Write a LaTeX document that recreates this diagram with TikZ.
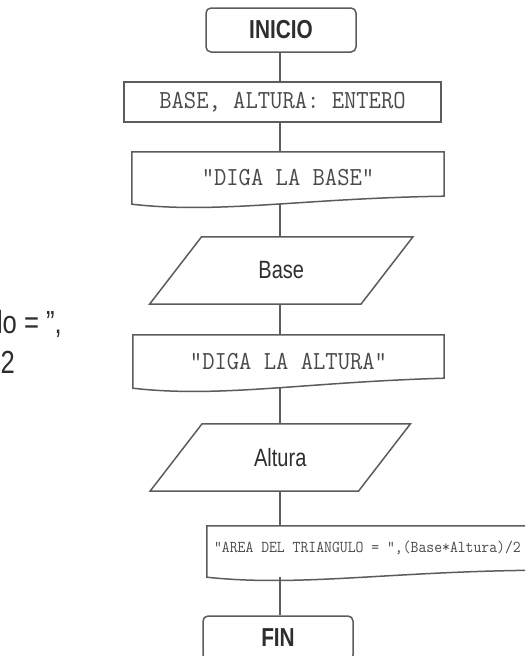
\documentclass[tikz,border=0pt]{standalone}
\usepackage{fontspec}
\setmainfont{Liberation Sans}
\usetikzlibrary{calc}

\definecolor{linegray}{HTML}{5C5C5C}
\definecolor{monogray}{HTML}{4A4A4A}
\definecolor{sansgray}{HTML}{2E2E2E}

% the scan is squeezed sideways, so is the text
\newcommand{\squeeze}[1]{\scalebox{0.8}[1]{#1}}
\newcommand{\squeezett}[1]{\scalebox{0.92}[1]{#1}}

% document shape: wavy bottom, right end raised by #2
\newcommand{\docoutline}[2]{%
  \draw[flowline] (#1.south west) -- (#1.north west) -- (#1.north east)
    -- ($(#1.south east)+(0,-#2)$)
    .. controls ($(#1.south west)!0.55!(#1.south east)+(0,-6)$)
    and ($(#1.south west)!0.28!(#1.south east)+(0,10)$) .. (#1.south west)
    -- cycle;}

% data shape: slanted sides
\newcommand{\iooutline}[1]{%
  \draw[flowline] ([xshift=26pt]#1.north west) -- ([xshift=26pt]#1.north east)
    -- ([xshift=-26pt]#1.south east) -- ([xshift=-26pt]#1.south west) -- cycle;}

\tikzset{
  flowline/.style={draw=linegray, line width=1.5pt},
  termbox/.style={flowline, rounded corners=5pt, inner sep=0pt,
    minimum width=150pt, minimum height=44pt, text=sansgray,
    font=\fontsize{26}{28}\selectfont\bfseries},
  declbox/.style={flowline, inner sep=0pt, minimum width=317pt,
    minimum height=40pt, text=monogray, font=\fontsize{26}{28}\ttfamily},
  docbox/.style={inner sep=0pt, text=monogray,
    font=\fontsize{26}{28}\ttfamily},
  iobox/.style={inner sep=0pt, minimum width=211pt, minimum height=67pt,
    text=sansgray, font=\fontsize{25}{28}\selectfont},
  sidetext/.style={inner sep=0pt, text=sansgray,
    font=\fontsize{32}{36}\selectfont}
}

\begin{document}
\begin{tikzpicture}[x=1pt, y=-1pt]
  \useasboundingbox (0,0) rectangle (525,656);
  \fill[white] (0,0) rectangle (525,656);
  \clip (0,0) rectangle (525,656);
  \coordinate (spine) at (280,0);

  % boxes
  \node[termbox] (start) at (281,30) {\squeeze{INICIO}};
  \node[declbox] (decl) at (282.5,102) {\squeezett{BASE, ALTURA: ENTERO}};
  \node[docbox, minimum width=312pt, minimum height=52pt] (askBase)
    at (288,178) {\squeezett{“DIGA LA BASE”}};
  \node[iobox] (readBase) at (281.25,270.5) {\squeeze{Base}};
  \node[docbox, minimum width=311pt, minimum height=53pt] (askAlt)
    at (288.5,361.5) {\squeezett{“DIGA LA ALTURA”}};
  \node[iobox, minimum width=208pt] (readAlt) at (280.25,457.5)
    {\squeeze{Altura}};
  \node[docbox, minimum width=333pt, minimum height=51pt] (showArea)
    at (373.5,551.5) {};
  \node[docbox, anchor=east, font=\fontsize{16.6}{19}\ttfamily] (areaText)
    at (521,548) {\squeezett{“AREA DEL TRIANGULO = ”,(Base*Altura)/2}};
  \node[termbox] (stop) at (278,638) {\squeeze{FIN}};

  % outlines
  \docoutline{askBase}{8}
  \iooutline{readBase}
  \docoutline{askAlt}{10}
  \iooutline{readAlt}
  \docoutline{showArea}{7}

  % connectors
  \draw[flowline] (spine |- start.south) -- (spine |- decl.north);
  \draw[flowline] (spine |- decl.south) -- (spine |- askBase.north);
  \draw[flowline] (spine |- askBase.south) -- (spine |- readBase.north);
  \draw[flowline] (spine |- readBase.south) -- (spine |- askAlt.north);
  \draw[flowline] (spine |- askAlt.south) -- (spine |- readAlt.north);
  \draw[flowline] (spine |- readAlt.south) -- (spine |- showArea.north);
  \draw[flowline] (spine |- showArea.south) -- (spine |- stop.north);

  % cut-off note on the left
  \node[sidetext, anchor=base east] (noteTop) at (62,333) {\squeeze{lo = ",}};
  \node[sidetext, anchor=base east] (noteLow) at (15,373) {\squeeze{2}};
\end{tikzpicture}
\end{document}
